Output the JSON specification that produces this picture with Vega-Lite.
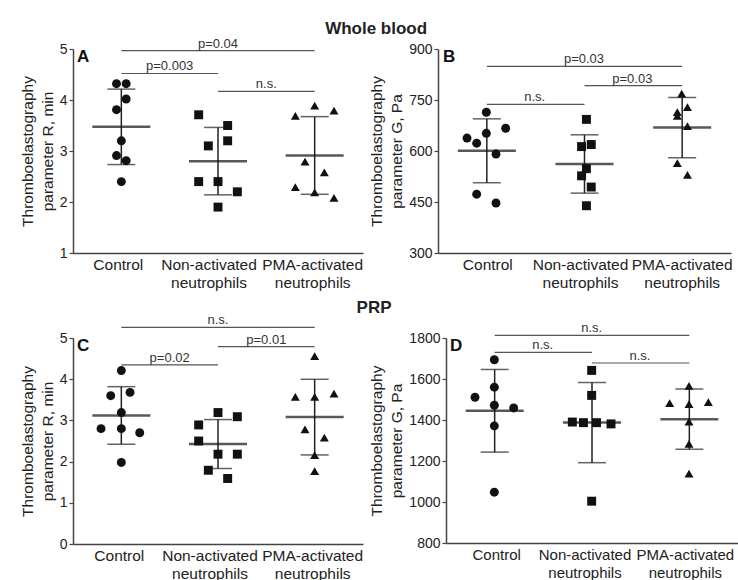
{
  "$schema": "https://vega.github.io/schema/vega-lite/v6.json",
  "background": "white",
  "padding": {"left": 20, "top": 19, "right": 0, "bottom": 0},
  "datasets": {
    "pts": [
      {"p":"A","g":"Control","s":-0.5,"v":4.32},{"p":"A","g":"Control","s":0.5,"v":4.32},{"p":"A","g":"Control","s":0.5,"v":4.02},{"p":"A","g":"Control","s":-0.5,"v":3.81},{"p":"A","g":"Control","s":0,"v":3.20},{"p":"A","g":"Control","s":-0.5,"v":2.91},{"p":"A","g":"Control","s":0.5,"v":2.81},{"p":"A","g":"Control","s":0,"v":2.40},
      {"p":"A","g":"Non-activated neutrophils","s":-2,"v":3.71},{"p":"A","g":"Non-activated neutrophils","s":1,"v":3.50},{"p":"A","g":"Non-activated neutrophils","s":1,"v":3.20},{"p":"A","g":"Non-activated neutrophils","s":-1,"v":3.10},{"p":"A","g":"Non-activated neutrophils","s":-2,"v":2.40},{"p":"A","g":"Non-activated neutrophils","s":0,"v":2.40},{"p":"A","g":"Non-activated neutrophils","s":2,"v":2.20},{"p":"A","g":"Non-activated neutrophils","s":0,"v":1.90},
      {"p":"A","g":"PMA-activated neutrophils","s":-2,"v":3.69},{"p":"A","g":"PMA-activated neutrophils","s":0,"v":3.89},{"p":"A","g":"PMA-activated neutrophils","s":2,"v":3.79},{"p":"A","g":"PMA-activated neutrophils","s":-1,"v":2.79},{"p":"A","g":"PMA-activated neutrophils","s":1,"v":2.58},{"p":"A","g":"PMA-activated neutrophils","s":-2,"v":2.29},{"p":"A","g":"PMA-activated neutrophils","s":0,"v":2.19},{"p":"A","g":"PMA-activated neutrophils","s":2,"v":2.08},
      {"p":"B","g":"Control","s":0,"v":714},{"p":"B","g":"Control","s":-2,"v":638},{"p":"B","g":"Control","s":-1,"v":623},{"p":"B","g":"Control","s":0,"v":652},{"p":"B","g":"Control","s":2,"v":667},{"p":"B","g":"Control","s":1,"v":591},{"p":"B","g":"Control","s":-1,"v":473},{"p":"B","g":"Control","s":1,"v":447},
      {"p":"B","g":"Non-activated neutrophils","s":0.25,"v":693},{"p":"B","g":"Non-activated neutrophils","s":-0.25,"v":613},{"p":"B","g":"Non-activated neutrophils","s":0.75,"v":619},{"p":"B","g":"Non-activated neutrophils","s":0.25,"v":548},{"p":"B","g":"Non-activated neutrophils","s":-0.25,"v":527},{"p":"B","g":"Non-activated neutrophils","s":0.75,"v":494},{"p":"B","g":"Non-activated neutrophils","s":0.25,"v":439},
      {"p":"B","g":"PMA-activated neutrophils","s":0,"v":769},{"p":"B","g":"PMA-activated neutrophils","s":0.6,"v":729},{"p":"B","g":"PMA-activated neutrophils","s":-0.45,"v":714},{"p":"B","g":"PMA-activated neutrophils","s":-0.45,"v":703},{"p":"B","g":"PMA-activated neutrophils","s":0.6,"v":673},{"p":"B","g":"PMA-activated neutrophils","s":-0.45,"v":564},{"p":"B","g":"PMA-activated neutrophils","s":0.6,"v":530},
      {"p":"C","g":"Control","s":0,"v":4.21},{"p":"C","g":"Control","s":-1.1,"v":3.60},{"p":"C","g":"Control","s":0.9,"v":3.68},{"p":"C","g":"Control","s":0,"v":3.19},{"p":"C","g":"Control","s":-2.1,"v":2.80},{"p":"C","g":"Control","s":0,"v":2.80},{"p":"C","g":"Control","s":1.9,"v":2.70},{"p":"C","g":"Control","s":0,"v":1.98},
      {"p":"C","g":"Non-activated neutrophils","s":0,"v":3.19},{"p":"C","g":"Non-activated neutrophils","s":2,"v":3.09},{"p":"C","g":"Non-activated neutrophils","s":-2,"v":2.89},{"p":"C","g":"Non-activated neutrophils","s":-2,"v":2.50},{"p":"C","g":"Non-activated neutrophils","s":0,"v":2.18},{"p":"C","g":"Non-activated neutrophils","s":2,"v":2.18},{"p":"C","g":"Non-activated neutrophils","s":-1,"v":1.79},{"p":"C","g":"Non-activated neutrophils","s":1,"v":1.59},
      {"p":"C","g":"PMA-activated neutrophils","s":0,"v":4.56},{"p":"C","g":"PMA-activated neutrophils","s":-2,"v":3.57},{"p":"C","g":"PMA-activated neutrophils","s":0,"v":3.57},{"p":"C","g":"PMA-activated neutrophils","s":2,"v":3.65},{"p":"C","g":"PMA-activated neutrophils","s":-1,"v":2.78},{"p":"C","g":"PMA-activated neutrophils","s":1,"v":2.58},{"p":"C","g":"PMA-activated neutrophils","s":0,"v":2.16},{"p":"C","g":"PMA-activated neutrophils","s":0,"v":1.77},
      {"p":"D","g":"Control","s":0,"v":1694},{"p":"D","g":"Control","s":0,"v":1560},{"p":"D","g":"Control","s":-2,"v":1511},{"p":"D","g":"Control","s":0,"v":1472},{"p":"D","g":"Control","s":2,"v":1459},{"p":"D","g":"Control","s":0,"v":1371},{"p":"D","g":"Control","s":0,"v":1048},
      {"p":"D","g":"Non-activated neutrophils","s":0,"v":1642},{"p":"D","g":"Non-activated neutrophils","s":0,"v":1520},{"p":"D","g":"Non-activated neutrophils","s":-2,"v":1390},{"p":"D","g":"Non-activated neutrophils","s":-0.85,"v":1387},{"p":"D","g":"Non-activated neutrophils","s":0.5,"v":1387},{"p":"D","g":"Non-activated neutrophils","s":2,"v":1381},{"p":"D","g":"Non-activated neutrophils","s":0,"v":1004},
      {"p":"D","g":"PMA-activated neutrophils","s":0,"v":1567},{"p":"D","g":"PMA-activated neutrophils","s":-2,"v":1482},{"p":"D","g":"PMA-activated neutrophils","s":0,"v":1477},{"p":"D","g":"PMA-activated neutrophils","s":2,"v":1487},{"p":"D","g":"PMA-activated neutrophils","s":0,"v":1392},{"p":"D","g":"PMA-activated neutrophils","s":0,"v":1283},{"p":"D","g":"PMA-activated neutrophils","s":0,"v":1139}
    ],
    "br": [
      {"p":"A","g":"Control","g2":"PMA-activated neutrophils","v":4.97},
      {"p":"A","g":"Control","g2":"Non-activated neutrophils","v":4.52},
      {"p":"A","g":"Non-activated neutrophils","g2":"PMA-activated neutrophils","v":4.17},
      {"p":"B","g":"Control","g2":"PMA-activated neutrophils","v":849},
      {"p":"B","g":"Non-activated neutrophils","g2":"PMA-activated neutrophils","v":792},
      {"p":"B","g":"Control","g2":"Non-activated neutrophils","v":737},
      {"p":"C","g":"Control","g2":"PMA-activated neutrophils","v":5.26},
      {"p":"C","g":"Non-activated neutrophils","g2":"PMA-activated neutrophils","v":4.79},
      {"p":"C","g":"Control","g2":"Non-activated neutrophils","v":4.35},
      {"p":"D","g":"Control","g2":"PMA-activated neutrophils","v":1813},
      {"p":"D","g":"Control","g2":"Non-activated neutrophils","v":1730},
      {"p":"D","g":"Non-activated neutrophils","g2":"PMA-activated neutrophils","v":1678}
    ],
    "lb": [
      {"p":"A","g":"Non-activated neutrophils","s":0,"v":4.97,"t":"p=0.04"},
      {"p":"A","g":"Control","s":5,"v":4.52,"t":"p=0.003"},
      {"p":"A","g":"Non-activated neutrophils","s":5,"v":4.17,"t":"n.s."},
      {"p":"B","g":"Non-activated neutrophils","s":0,"v":849,"t":"p=0.03"},
      {"p":"B","g":"Non-activated neutrophils","s":5,"v":792,"t":"p=0.03"},
      {"p":"B","g":"Control","s":5,"v":737,"t":"n.s."},
      {"p":"C","g":"Non-activated neutrophils","s":0,"v":5.26,"t":"n.s."},
      {"p":"C","g":"Non-activated neutrophils","s":5,"v":4.79,"t":"p=0.01"},
      {"p":"C","g":"Control","s":5,"v":4.35,"t":"p=0.02"},
      {"p":"D","g":"Non-activated neutrophils","s":0,"v":1813,"t":"n.s."},
      {"p":"D","g":"Control","s":5,"v":1730,"t":"n.s."},
      {"p":"D","g":"Non-activated neutrophils","s":5,"v":1678,"t":"n.s."}
    ],
    "lt": [
      {"p":"A","g":"Control","s":-5,"v":5,"t":"A"},
      {"p":"B","g":"Control","s":-5,"v":900,"t":"B"},
      {"p":"C","g":"Control","s":-5,"v":5,"t":"C"},
      {"p":"D","g":"Control","s":-5,"v":1800,"t":"D"}
    ]
  },
  "config": {
    "font": "Liberation Sans",
    "view": {"stroke": null},
    "axis": {"grid": false, "domainColor": "#444", "domainWidth": 1.5, "tickColor": "#444", "tickWidth": 1.2, "labelColor": "#222", "titleColor": "#222", "labelFont": "Liberation Sans", "titleFont": "Liberation Sans"},
    "axisX": {"ticks": false, "labelAngle": 0, "labelFontSize": 15.5, "labelPadding": 4, "labelLineHeight": 18, "labelOverlap": false},
    "axisY": {"labelFontSize": 14, "tickSize": 4, "labelPadding": 2, "titleFontSize": 15.5, "titleFontWeight": "normal", "titleLineHeight": 20, "titlePadding": 4},
    "title": {"fontSize": 17, "fontWeight": "bold", "color": "#222", "anchor": "middle"}
  },
  "spacing": 8,
  "vconcat": [
    {
      "title": {"text": "Whole blood", "offset": 0, "dx": 0},
      "spacing": 6,
      "hconcat": [
        {
          "width": 290, "height": 204,
          "encoding": {
            "x": {"field": "g", "type": "nominal", "title": null, "scale": {"domain": ["Control","Non-activated neutrophils","PMA-activated neutrophils"], "paddingInner": 0, "paddingOuter": 0}, "axis": {"labelExpr": "split(datum.label, ' ')", "labelOffset": {"condition": [{"test": "datum.value == 'Control'", "value": -3}, {"test": "datum.value == 'Non-activated neutrophils'", "value": -9}], "value": -2}}},
            "y": {"field": "v", "type": "quantitative", "title": ["Thromboelastography", "parameter R, min"], "scale": {"domain": [1, 5], "nice": false, "zero": false}, "axis": {"values": [1,2,3,4,5]}}
          },
          "layer": [
            {"data": {"name": "br"}, "transform": [{"filter": "datum.p == 'A'"}], "mark": {"type": "rule", "color": "#555", "strokeWidth": 1.2}, "encoding": {"x2": {"field": "g2"}}},
            {"data": {"name": "lb"}, "transform": [{"filter": "datum.p == 'A'"}], "mark": {"type": "text", "fontSize": 13, "color": "#333", "baseline": "alphabetic", "dy": -3}, "encoding": {"xOffset": {"field": "s", "type": "quantitative", "scale": {"domain": [-5, 5]}}, "text": {"field": "t"}}},
            {"data": {"name": "lt"}, "transform": [{"filter": "datum.p == 'A'"}], "mark": {"type": "text", "fontSize": 17, "fontWeight": "bold", "align": "left", "baseline": "top", "dx": 4, "color": "#111"}, "encoding": {"xOffset": {"field": "s", "type": "quantitative", "scale": {"domain": [-5, 5]}}, "text": {"field": "t"}}},
            {"data": {"name": "pts"}, "transform": [{"filter": "datum.p == 'A'"}], "mark": {"type": "errorbar", "extent": "stdev", "ticks": true, "size": 28, "thickness": 1.5, "color": "#222"}},
            {"data": {"name": "pts"}, "transform": [{"filter": "datum.p == 'A'"}, {"aggregate": [{"op": "mean", "field": "v", "as": "v"}], "groupby": ["g"]}], "mark": {"type": "tick", "size": 58, "thickness": 2.5, "color": "#111"}},
            {"data": {"name": "pts"}, "transform": [{"filter": "datum.p == 'A'"}], "mark": {"type": "point", "filled": true, "opacity": 1, "color": "#111", "size": 80}, "encoding": {"xOffset": {"field": "s", "type": "quantitative", "scale": {"domain": [-5, 5]}}, "shape": {"field": "g", "type": "nominal", "scale": {"domain": ["Control","Non-activated neutrophils","PMA-activated neutrophils"], "range": ["circle","square","triangle-up"]}, "legend": null}}}
          ]
        },
        {
          "width": 293, "height": 204,
          "encoding": {
            "x": {"field": "g", "type": "nominal", "title": null, "scale": {"domain": ["Control","Non-activated neutrophils","PMA-activated neutrophils"], "paddingInner": 0, "paddingOuter": 0}, "axis": {"labelExpr": "split(datum.label, ' ')", "labelOffset": {"condition": [{"test": "datum.value == 'Control'", "value": 1}, {"test": "datum.value == 'Non-activated neutrophils'", "value": -4}], "value": 0}}},
            "y": {"field": "v", "type": "quantitative", "title": ["Thromboelastography", "parameter G, Pa"], "scale": {"domain": [300, 900], "nice": false, "zero": false}, "axis": {"values": [300,450,600,750,900]}}
          },
          "layer": [
            {"data": {"name": "br"}, "transform": [{"filter": "datum.p == 'B'"}], "mark": {"type": "rule", "color": "#555", "strokeWidth": 1.2}, "encoding": {"x2": {"field": "g2"}}},
            {"data": {"name": "lb"}, "transform": [{"filter": "datum.p == 'B'"}], "mark": {"type": "text", "fontSize": 13, "color": "#333", "baseline": "alphabetic", "dy": -3}, "encoding": {"xOffset": {"field": "s", "type": "quantitative", "scale": {"domain": [-5, 5]}}, "text": {"field": "t"}}},
            {"data": {"name": "lt"}, "transform": [{"filter": "datum.p == 'B'"}], "mark": {"type": "text", "fontSize": 17, "fontWeight": "bold", "align": "left", "baseline": "top", "dx": 5, "color": "#111"}, "encoding": {"xOffset": {"field": "s", "type": "quantitative", "scale": {"domain": [-5, 5]}}, "text": {"field": "t"}}},
            {"data": {"name": "pts"}, "transform": [{"filter": "datum.p == 'B'"}], "mark": {"type": "errorbar", "extent": "stdev", "ticks": true, "size": 28, "thickness": 1.5, "color": "#222"}},
            {"data": {"name": "pts"}, "transform": [{"filter": "datum.p == 'B'"}, {"aggregate": [{"op": "mean", "field": "v", "as": "v"}], "groupby": ["g"]}], "mark": {"type": "tick", "size": 58, "thickness": 2.5, "color": "#111"}},
            {"data": {"name": "pts"}, "transform": [{"filter": "datum.p == 'B'"}], "mark": {"type": "point", "filled": true, "opacity": 1, "color": "#111", "size": 80}, "encoding": {"xOffset": {"field": "s", "type": "quantitative", "scale": {"domain": [-5, 5]}}, "shape": {"field": "g", "type": "nominal", "scale": {"domain": ["Control","Non-activated neutrophils","PMA-activated neutrophils"], "range": ["circle","square","triangle-up"]}, "legend": null}}}
          ]
        }
      ]
    },
    {
      "title": {"text": "PRP", "offset": -3, "dx": -5},
      "spacing": 6,
      "hconcat": [
        {
          "width": 290, "height": 206,
          "encoding": {
            "x": {"field": "g", "type": "nominal", "title": null, "scale": {"domain": ["Control","Non-activated neutrophils","PMA-activated neutrophils"], "paddingInner": 0, "paddingOuter": 0}, "axis": {"labelExpr": "split(datum.label, ' ')", "labelOffset": {"condition": [{"test": "datum.value == 'Control'", "value": -2}, {"test": "datum.value == 'Non-activated neutrophils'", "value": -8}], "value": -2}}},
            "y": {"field": "v", "type": "quantitative", "title": ["Thromboelastography", "parameter R, min"], "scale": {"domain": [0, 5], "nice": false, "zero": false}, "axis": {"values": [0,1,2,3,4,5]}}
          },
          "layer": [
            {"data": {"name": "br"}, "transform": [{"filter": "datum.p == 'C'"}], "mark": {"type": "rule", "color": "#555", "strokeWidth": 1.2}, "encoding": {"x2": {"field": "g2"}}},
            {"data": {"name": "lb"}, "transform": [{"filter": "datum.p == 'C'"}], "mark": {"type": "text", "fontSize": 13, "color": "#333", "baseline": "alphabetic", "dy": -3}, "encoding": {"xOffset": {"field": "s", "type": "quantitative", "scale": {"domain": [-5, 5]}}, "text": {"field": "t"}}},
            {"data": {"name": "lt"}, "transform": [{"filter": "datum.p == 'C'"}], "mark": {"type": "text", "fontSize": 17, "fontWeight": "bold", "align": "left", "baseline": "top", "dx": 4, "color": "#111"}, "encoding": {"xOffset": {"field": "s", "type": "quantitative", "scale": {"domain": [-5, 5]}}, "text": {"field": "t"}}},
            {"data": {"name": "pts"}, "transform": [{"filter": "datum.p == 'C'"}], "mark": {"type": "errorbar", "extent": "stdev", "ticks": true, "size": 28, "thickness": 1.5, "color": "#222"}},
            {"data": {"name": "pts"}, "transform": [{"filter": "datum.p == 'C'"}, {"aggregate": [{"op": "mean", "field": "v", "as": "v"}], "groupby": ["g"]}], "mark": {"type": "tick", "size": 58, "thickness": 2.5, "color": "#111"}},
            {"data": {"name": "pts"}, "transform": [{"filter": "datum.p == 'C'"}], "mark": {"type": "point", "filled": true, "opacity": 1, "color": "#111", "size": 80}, "encoding": {"xOffset": {"field": "s", "type": "quantitative", "scale": {"domain": [-5, 5]}}, "shape": {"field": "g", "type": "nominal", "scale": {"domain": ["Control","Non-activated neutrophils","PMA-activated neutrophils"], "range": ["circle","square","triangle-up"]}, "legend": null}}}
          ]
        },
        {
          "width": 292, "height": 205,
          "encoding": {
            "x": {"field": "g", "type": "nominal", "title": null, "scale": {"domain": ["Control","Non-activated neutrophils","PMA-activated neutrophils"], "paddingInner": 0, "paddingOuter": 0}, "axis": {"labelExpr": "split(datum.label, ' ')", "labelFontSize": 15, "labelOffset": {"condition": [{"test": "datum.value == 'Control'", "value": 2}, {"test": "datum.value == 'Non-activated neutrophils'", "value": -7}], "value": -4}}},
            "y": {"field": "v", "type": "quantitative", "title": ["Thromboelastography", "parameter G, Pa"], "scale": {"domain": [800, 1800], "nice": false, "zero": false}, "axis": {"values": [800,1000,1200,1400,1600,1800], "format": "d"}}
          },
          "layer": [
            {"data": {"name": "br"}, "transform": [{"filter": "datum.p == 'D'"}], "mark": {"type": "rule", "color": "#555", "strokeWidth": 1.2}, "encoding": {"x2": {"field": "g2"}}},
            {"data": {"name": "lb"}, "transform": [{"filter": "datum.p == 'D'"}], "mark": {"type": "text", "fontSize": 13, "color": "#333", "baseline": "alphabetic", "dy": -3}, "encoding": {"xOffset": {"field": "s", "type": "quantitative", "scale": {"domain": [-5, 5]}}, "text": {"field": "t"}}},
            {"data": {"name": "lt"}, "transform": [{"filter": "datum.p == 'D'"}], "mark": {"type": "text", "fontSize": 17, "fontWeight": "bold", "align": "left", "baseline": "top", "dx": 4, "color": "#111"}, "encoding": {"xOffset": {"field": "s", "type": "quantitative", "scale": {"domain": [-5, 5]}}, "text": {"field": "t"}}},
            {"data": {"name": "pts"}, "transform": [{"filter": "datum.p == 'D'"}], "mark": {"type": "errorbar", "extent": "stdev", "ticks": true, "size": 28, "thickness": 1.5, "color": "#222"}},
            {"data": {"name": "pts"}, "transform": [{"filter": "datum.p == 'D'"}, {"aggregate": [{"op": "mean", "field": "v", "as": "v"}], "groupby": ["g"]}], "mark": {"type": "tick", "size": 58, "thickness": 2.5, "color": "#111"}},
            {"data": {"name": "pts"}, "transform": [{"filter": "datum.p == 'D'"}], "mark": {"type": "point", "filled": true, "opacity": 1, "color": "#111", "size": 80}, "encoding": {"xOffset": {"field": "s", "type": "quantitative", "scale": {"domain": [-5, 5]}}, "shape": {"field": "g", "type": "nominal", "scale": {"domain": ["Control","Non-activated neutrophils","PMA-activated neutrophils"], "range": ["circle","square","triangle-up"]}, "legend": null}}}
          ]
        }
      ]
    }
  ]
}
